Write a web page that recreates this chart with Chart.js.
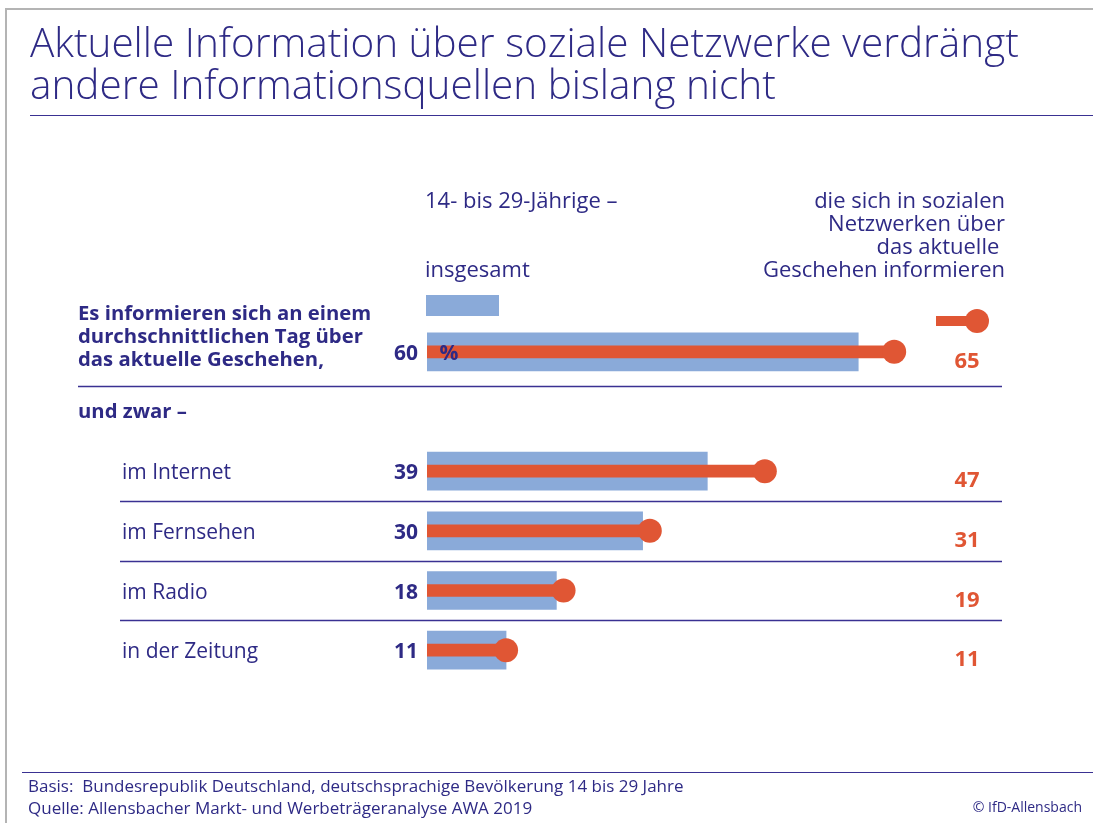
<!DOCTYPE html>
<html lang="de">
<head>
<meta charset="utf-8">
<title>Aktuelle Information über soziale Netzwerke</title>
<script src="https://cdn.jsdelivr.net/npm/chart.js@4.4.1/dist/chart.umd.min.js"></script>
<style>
  html, body { margin: 0; padding: 0; background: #fff; overflow: hidden; }
  #wrap { position: relative; width: 1093px; height: 823px; font-family: "Open Sans", sans-serif; color: #2e2a85; }
  #chart { position: absolute; left: 0; top: 0; }
  .txt { position: absolute; white-space: nowrap; }
  .frame-top { position: absolute; left: 6px; top: 8px; width: 1087px; height: 0; border-top: 2px solid #b4b4b4; }
  .frame-left { position: absolute; left: 5px; top: 8px; width: 0; height: 815px; border-left: 2px solid #b4b4b4; }
  .rule { position: absolute; height: 0; border-top: 1.5px solid #3a3192; }
  .title { left: 30px; top: 21px; font-size: 40.5px; line-height: 42px; font-weight: 300; }
  .head { font-size: 22px; line-height: 23px; }
  .foot { left: 28px; top: 775px; font-size: 17px; line-height: 22px; }
  .copy { right: 11px; top: 799px; font-size: 14px; line-height: 16px; }
</style>
</head>
<body>
<div id="wrap">
  <canvas id="chart" width="1093" height="823"></canvas>
  <div class="frame-top"></div>
  <div class="frame-left"></div>
  <div class="txt title">Aktuelle Information über soziale Netzwerke verdrängt<br>andere Informationsquellen bislang nicht</div>
  <div class="rule" style="left:30px; top:115px; width:1063px;"></div>
  <div class="txt head" style="left:425px; top:188px;">14- bis 29-Jährige –</div>
  <div class="txt head" style="left:425px; top:257px;">insgesamt</div>
  <div class="txt head" style="right:88px; top:188px; text-align:right;">die sich in sozialen<br>Netzwerken über<br>das aktuelle&nbsp;<br>Geschehen informieren</div>
  <div class="rule" style="left:22px; top:772px; width:1071px;"></div>
  <div class="txt foot">Basis:&nbsp; Bundesrepublik Deutschland, deutschsprachige Bevölkerung 14 bis 29 Jahre<br>Quelle: Allensbacher Markt- und Werbeträgeranalyse AWA 2019</div>
  <div class="txt copy">© IfD-Allensbach</div>
</div>
<script>
"use strict";
{
  // Daten
  const categories = [
    ["Es informieren sich an einem", "durchschnittlichen Tag über", "das aktuelle Geschehen,"],
    "und zwar –",
    "im Internet",
    "im Fernsehen",
    "im Radio",
    "in der Zeitung",
  ];
  const totalValues = [60, null, 39, 30, 18, 11];   // 14- bis 29-Jährige insgesamt
  const socialValues = [65, null, 47, 31, 19, 11];  // die sich in sozialen Netzwerken informieren

  const NAVY = "#2e2a85";
  const LINE = "#3a3192";
  const BLUE = "#8aaad9";
  const ORANGE = "#e05634";
  const FONT = '"Open Sans", sans-serif';

  const rowLabels = {
    id: "rowLabels",
    beforeDatasetsDraw(chart) {
      const { ctx, scales: { x, y } } = chart;
      ctx.save();
      // Trennlinien
      ctx.strokeStyle = LINE;
      ctx.lineWidth = 1.5;
      [[0.5, 78, 4], [2.5, 120, 0], [3.5, 120, 0], [4.5, 120, 0]].forEach(([v, x0, dy]) => {
        const py = Math.round(y.getPixelForValue(v) + dy) + 0.5;
        ctx.beginPath();
        ctx.moveTo(x0, py);
        ctx.lineTo(x.right, py);
        ctx.stroke();
      });
      // Legende
      ctx.fillStyle = BLUE;
      ctx.fillRect(x.left - 1, 295, 73, 21);
      ctx.fillStyle = ORANGE;
      ctx.fillRect(936, 316, 41, 10);
      ctx.beginPath();
      ctx.arc(977, 321, 12, 0, Math.PI * 2);
      ctx.fill();
      ctx.restore();
    },
    afterDatasetsDraw(chart) {
      const { ctx, scales: { x, y } } = chart;
      ctx.save();
      ctx.textBaseline = "alphabetic";
      categories.forEach((label, i) => {
        const py = y.getPixelForValue(i);
        ctx.fillStyle = NAVY;
        ctx.textAlign = "left";
        if (Array.isArray(label)) {
          ctx.font = "bold 20.3px " + FONT;
          label.forEach((line, j) => ctx.fillText(line, 78, py - 32 + j * 23));
        } else if (i === 1) {
          ctx.font = "bold 20.3px " + FONT;
          ctx.fillText(label, 78, py + 6);
        } else {
          ctx.font = "21px " + FONT;
          ctx.fillText(label, 122, py + 8);
        }
        if (totalValues[i] != null) {
          ctx.font = "bold 21px " + FONT;
          ctx.textAlign = "right";
          ctx.fillText(totalValues[i], x.left - 9, py + 8);
        }
        if (socialValues[i] != null) {
          ctx.font = "bold 22px " + FONT;
          ctx.textAlign = "center";
          ctx.fillStyle = ORANGE;
          ctx.fillText(socialValues[i], 967, py + 16);
        }
      });
      // Prozentzeichen im ersten Balken
      ctx.font = "bold 21px " + FONT;
      ctx.textAlign = "center";
      ctx.fillStyle = NAVY;
      ctx.fillText("%", 449, y.getPixelForValue(0) + 8);
      ctx.restore();
    },
  };

  const ctx = document.getElementById("chart").getContext("2d");
  new Chart(ctx, {
    type: "bar",
    data: {
      labels: categories,
      datasets: [
        {
          type: "bar",
          indexAxis: "y",
          data: totalValues,
          backgroundColor: BLUE,
          borderWidth: 0,
          barThickness: 38,
          grouped: false,
          order: 3,
        },
        {
          type: "bar",
          indexAxis: "y",
          data: socialValues,
          backgroundColor: ORANGE,
          borderWidth: 0,
          barThickness: 12,
          grouped: false,
          order: 2,
        },
        {
          type: "line",
          indexAxis: "y",
          data: socialValues,
          showLine: false,
          pointRadius: 12,
          pointHoverRadius: 12,
          pointBackgroundColor: ORANGE,
          pointBorderWidth: 0,
          clip: false,
          order: 1,
        },
      ],
    },
    plugins: [rowLabels],
    options: {
      indexAxis: "y",
      responsive: false,
      animation: false,
      events: [],
      layout: {
        padding: { left: 427, right: 91, top: 322, bottom: 143 },
      },
      scales: {
        x: { type: "linear", min: 0, max: 80, display: false },
        y: { type: "category", offset: true, display: false },
      },
      plugins: {
        legend: { display: false },
        tooltip: { enabled: false },
      },
    },
  });
}
</script>
</body>
</html>
